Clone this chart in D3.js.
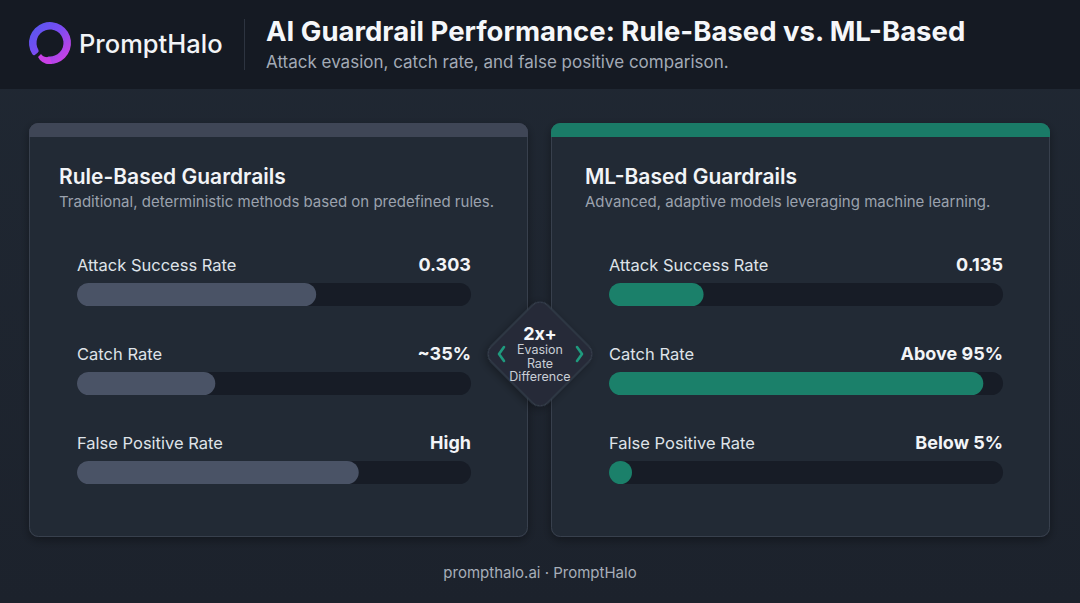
<!DOCTYPE html>
<html>
<head>
<meta charset="utf-8">
<script src="https://cdn.jsdelivr.net/npm/d3@7"></script>
<style>
  html, body { margin: 0; padding: 0; background: #1d232e; }
  svg { display: block; font-family: Inter, "Noto Sans", sans-serif; }
</style>
</head>
<body>
<svg id="chart" width="1080" height="603"></svg>
<script>
// ---------- data ----------
const metrics = ["Attack Success Rate", "Catch Rate", "False Positive Rate"];
const ruleValues = [0.607, 0.351, 0.715];          // bar fill fraction
const ruleLabels = ["0.303", "~35%", "High"];
const mlValues = [0.24, 0.95, 0.05];
const mlLabels = ["0.135", "Above 95%", "Below 5%"];
const cardTitles = ["Rule-Based Guardrails", "ML-Based Guardrails"];
const cardSubtitles = ["Traditional, deterministic methods based on predefined rules.",
                       "Advanced, adaptive models leveraging machine learning."];
const centerBadge = ["2x+", "Evasion", "Rate", "Difference"];

const W = 1080, H = 603;
const svg = d3.select("#chart");
const defs = svg.append("defs");

// background
const bg = defs.append("linearGradient").attr("id", "bg").attr("x1", 0).attr("y1", 0).attr("x2", 0).attr("y2", 1);
bg.append("stop").attr("offset", "0%").attr("stop-color", "#202833");
bg.append("stop").attr("offset", "100%").attr("stop-color", "#1c222c");
svg.append("rect").attr("width", W).attr("height", H).attr("fill", "url(#bg)");

// header
svg.append("rect").attr("width", W).attr("height", 89).attr("fill", "#151a23");

// shadow filter
const sh = defs.append("filter").attr("id", "shadow").attr("x", "-20%").attr("y", "-20%").attr("width", "140%").attr("height", "140%");
sh.append("feDropShadow").attr("dx", 0).attr("dy", 3).attr("stdDeviation", 5).attr("flood-color", "#000").attr("flood-opacity", 0.35);

// logo
const lg = defs.append("linearGradient").attr("id", "logoGrad").attr("x1", "0%").attr("y1", "0%").attr("x2", "100%").attr("y2", "100%");
lg.append("stop").attr("offset", "0%").attr("stop-color", "#4f5af0");
lg.append("stop").attr("offset", "45%").attr("stop-color", "#7a4cf2");
lg.append("stop").attr("offset", "100%").attr("stop-color", "#e03ee0");
const logo = svg.append("g").attr("transform", "translate(50,43)");
const deg = Math.PI / 180;
logo.append("path")
  .attr("d", d3.arc().innerRadius(13.5).outerRadius(21).cornerRadius(2).startAngle(232 * deg).endAngle((232 + 320) * deg)())
  .attr("fill", "url(#logoGrad)");
logo.append("path")
  .attr("d", "M -12 14 Q -8 22 2 21 L 0 14 Q -6 15 -9 11 Z")
  .attr("fill", "#c940e6");

svg.append("text").attr("x", 79).attr("y", 53).attr("fill", "#f2f4f7")
  .attr("font-size", 25.5).attr("font-weight", 500).text("PromptHalo");

svg.append("line").attr("x1", 244.5).attr("x2", 244.5).attr("y1", 19).attr("y2", 70)
  .attr("stroke", "#2d3440").attr("stroke-width", 1);

svg.append("text").attr("x", 266).attr("y", 41).attr("fill", "#f5f7fa")
  .attr("font-size", 27.5).attr("font-weight", 700)
  .text("AI Guardrail Performance: Rule-Based vs. ML-Based");
svg.append("text").attr("x", 266).attr("y", 68).attr("fill", "#a3aab6")
  .attr("font-size", 17).text("Attack evasion, catch rate, and false positive comparison.");

// cards
const cards = [
  { x: 29, title: cardTitles[0], sub: cardSubtitles[0], values: ruleValues, labels: ruleLabels,
    strip: "#3f4656", fill: "#4a5366", titleX: 59, trackX: 77 },
  { x: 551, title: cardTitles[1], sub: cardSubtitles[1], values: mlValues, labels: mlLabels,
    strip: "#1a7b67", fill: "#1b806a", titleX: 585, trackX: 609 }
];
const cardY = 123, cardW = 499, cardH = 414, trackW = 394, trackH = 23;
const rowLabelY = [271, 360, 449];
const x = d3.scaleLinear().domain([0, 1]).range([0, trackW]);

cards.forEach((c, ci) => {
  const clipId = "clip" + ci;
  defs.append("clipPath").attr("id", clipId)
    .append("rect").attr("x", c.x).attr("y", cardY).attr("width", cardW).attr("height", cardH).attr("rx", 9);
  const g = svg.append("g");
  g.append("rect").attr("x", c.x).attr("y", cardY).attr("width", cardW).attr("height", cardH).attr("rx", 9)
    .attr("fill", "#222934").attr("filter", "url(#shadow)");
  g.append("rect").attr("x", c.x + 0.5).attr("y", cardY + 0.5).attr("width", cardW - 1).attr("height", cardH - 1).attr("rx", 9)
    .attr("fill", "none").attr("stroke", "#38404d").attr("stroke-width", 1);
  g.append("rect").attr("x", c.x).attr("y", cardY).attr("width", cardW).attr("height", 14)
    .attr("fill", c.strip).attr("clip-path", `url(#${clipId})`);

  g.append("text").attr("x", c.titleX).attr("y", 184).attr("fill", "#f2f4f7")
    .attr("font-size", 21).attr("font-weight", 600).text(c.title);
  g.append("text").attr("x", c.titleX).attr("y", 207).attr("fill", "#9ba2ae")
    .attr("font-size", 15).text(c.sub);

  metrics.forEach((m, i) => {
    const ly = rowLabelY[i];
    g.append("text").attr("x", c.trackX).attr("y", ly).attr("fill", "#dfe3e9")
      .attr("font-size", 16.5).text(m);
    g.append("text").attr("x", c.trackX + trackW).attr("y", ly).attr("fill", "#f2f4f7")
      .attr("text-anchor", "end").attr("font-size", 18).attr("font-weight", 700).text(c.labels[i]);
    const ty = ly + 12;
    g.append("rect").attr("x", c.trackX).attr("y", ty).attr("width", trackW).attr("height", trackH)
      .attr("rx", trackH / 2).attr("fill", "#171c26");
    g.append("rect").attr("x", c.trackX).attr("y", ty).attr("width", Math.max(x(c.values[i]), trackH)).attr("height", trackH)
      .attr("rx", trackH / 2).attr("fill", c.fill);
  });
});

// center badge
const badge = svg.append("g").attr("transform", "translate(540,354)");
const side = 80;
badge.append("rect").attr("x", -side / 2).attr("y", -side / 2).attr("width", side).attr("height", side).attr("rx", 11)
  .attr("transform", "rotate(45)").attr("fill", "#252c38").attr("stroke", "#3a4250").attr("stroke-width", 1)
  .attr("filter", "url(#shadow)");
badge.append("text").attr("y", -14).attr("text-anchor", "middle").attr("fill", "#f5f7fa")
  .attr("font-size", 18).attr("font-weight", 700).text(centerBadge[0]);
centerBadge.slice(1).forEach((t, i) => {
  badge.append("text").attr("y", 0 + i * 13.5).attr("text-anchor", "middle").attr("fill", "#c9ced6")
    .attr("font-size", 12.5).text(t);
});
badge.append("path").attr("d", "M -36 -7 L -41 0 L -36 7").attr("fill", "none")
  .attr("stroke", "#1f9a7e").attr("stroke-width", 2.6).attr("stroke-linecap", "round").attr("stroke-linejoin", "round");
badge.append("path").attr("d", "M 37 -7 L 42 0 L 37 7").attr("fill", "none")
  .attr("stroke", "#1f9a7e").attr("stroke-width", 2.6).attr("stroke-linecap", "round").attr("stroke-linejoin", "round");

// footer
svg.append("text").attr("x", 540).attr("y", 578).attr("text-anchor", "middle").attr("fill", "#a7aeb9")
  .attr("font-size", 15).text("prompthalo.ai · PromptHalo");
</script>
</body>
</html>
